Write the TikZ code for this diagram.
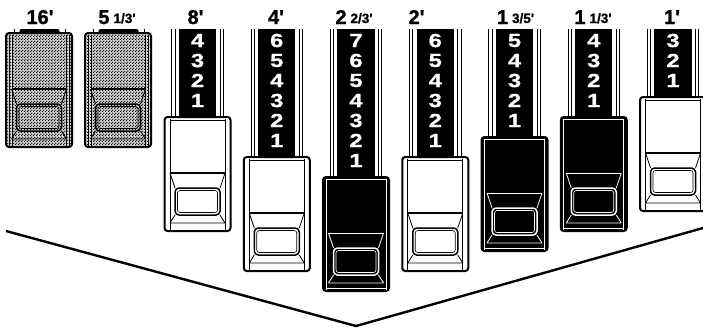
\documentclass[tikz,border=0pt]{standalone}
\usepackage{fontspec}
\setmainfont{Liberation Sans}
\newfontfamily\labfont{Liberation Sans Bold}[FakeBold=1.2]
\newfontfamily\digfont{Liberation Sans Bold}[FakeStretch=1.25,FakeBold=1]
\usetikzlibrary{patterns}
\pgfdeclarepatternformonly{knobdots}{\pgfpointorigin}{\pgfpoint{3pt}{3pt}}{\pgfpoint{3pt}{3pt}}{%
  \pgfpathcircle{\pgfpoint{0.75pt}{0.75pt}}{0.85pt}%
  \pgfpathcircle{\pgfpoint{2.25pt}{2.25pt}}{0.85pt}%
  \pgfusepath{fill}}
\tikzset{
  lab/.style={inner sep=0pt, anchor=base, font=\labfont\fontsize{20}{21}\selectfont},
  dig/.style={inner sep=0pt, text=white, font=\digfont\fontsize{19}{19}\selectfont},
  vline/.style={line width=2.4pt, line join=miter},
}
\newcommand\smallfr[1]{{\fontsize{13.5}{14}\selectfont\raisebox{1pt}{#1}}}
\newcommand\ap{\textquotesingle}
% shaft: #1 centre x, #2 bottom y
\newcommand\dbshaft[2]{%
  \fill[white] (#1-25.8,29) rectangle (#1+25.8,#2);
  \draw[line width=0.8pt] (#1-25.8,29) -- (#1-25.8,#2) (#1-22.5,29) -- (#1-22.5,#2)
        (#1+22.5,29) -- (#1+22.5,#2) (#1+25.8,29) -- (#1+25.8,#2);
  \fill (#1-18.7,29) rectangle (#1+18.7,#2);
}
% common line art of a knob, colour #1, divider width #2, side inset #3
\newcommand\knobart[3]{%
  \draw[#1, line width=0.7pt] (#3,1.5) -- (#3,112.5) (66-#3,1.5) -- (66-#3,112.5);
  \draw[#1, line width=#2] (5.5,56) -- (60.5,56);
  \draw[#1, line width=0.8pt] (5.5,56) -- (10.5,71) (60.5,56) -- (55.5,71)
        (10.5,98) -- (5.5,106) (55.5,98) -- (60.5,106) (5.5,106) -- (60.5,106);
  \draw[#1, line width=1.5pt, rounded corners=4pt] (10.5,71) rectangle (55.5,98);
  \draw[#1, line width=0.6pt, rounded corners=2.5pt] (13,73.5) rectangle (53,95.5);
}
\newcommand\whiteknob[2]{%
  \begin{scope}[shift={(#1,#2)}]
    \draw[line width=2pt, fill=white, rounded corners=3pt] (0,0) rectangle (66,114);
    \draw[line width=0.7pt] (5.5,3.2) -- (60.5,3.2);
    \knobart{black}{2.2pt}{5.5}
  \end{scope}}
\newcommand\blackknob[2]{%
  \begin{scope}[shift={(#1,#2)}]
    \draw[line width=2pt, fill=black, rounded corners=3pt] (0,0) rectangle (66,114);
    \draw[white, line width=0.7pt] (3,2.6) -- (63,2.6) (3,111.4) -- (63,111.4);
    \knobart{white}{0.8pt}{3}
  \end{scope}}
\newcommand\dotknob[2]{%
  \begin{scope}[shift={(#1,#2)}]
    \fill[gray!40, rounded corners=3pt] (0,0) rectangle (66,114);
    \fill[pattern=knobdots, rounded corners=3pt] (0,0) rectangle (66,114);
    \fill[gray!25] (1,2) rectangle (6,112) (60,2) rectangle (65,112);
    \fill[pattern=knobdots] (1,2) rectangle (6,112) (60,2) rectangle (65,112);
    \draw[line width=2pt, rounded corners=3pt] (0,0) rectangle (66,114);
    \draw[line width=0.7pt] (3,1.5) -- (3,112.5) (63,1.5) -- (63,112.5);
    \knobart{black}{2.2pt}{6}
  \end{scope}}
\begin{document}
\begin{tikzpicture}[x=1pt,y=-1pt]
\useasboundingbox (0,0) rectangle (703,330);
\fill[white] (0,0) rectangle (703,330);
% labels
\node[lab] (l1) at (40,24) {16\ap};
\node[lab] (l2) at (117,24) {5\hspace{4pt}\smallfr{1/3\ap}};
\node[lab] (l3) at (195.5,24) {8\ap};
\node[lab] (l4) at (276,24) {4\ap};
\node[lab] (l5) at (354,24) {2\hspace{4pt}\smallfr{2/3\ap}};
\node[lab] (l6) at (416.5,24) {2\ap};
\node[lab] (l7) at (515.5,24) {1\hspace{4pt}\smallfr{3/5\ap}};
\node[lab] (l8) at (593,24) {1\hspace{4pt}\smallfr{1/3\ap}};
\node[lab] (l9) at (672,24) {1\ap};
% pushed-in drawbars
\begin{scope}
  \fill[rounded corners=2pt] (19.5,29) rectangle (59.5,36);
  \draw[line width=0.8pt] (14,29) -- (14,34) (65,29) -- (65,34);
  \dotknob{6}{33}
  \fill[rounded corners=2pt] (98.5,29) rectangle (138.5,36);
  \draw[line width=0.8pt] (93,29) -- (93,34) (144,29) -- (144,34);
  \dotknob{85}{33}
\end{scope}
% pulled drawbars: shafts and numbers
\foreach \i/\n in {2/4,3/6,4/7,5/6,6/5,7/4,8/3}{
  \pgfmathsetmacro\lft{6+79.25*\i}
  \pgfmathsetmacro\cx{\lft+33}
  \pgfmathsetmacro\tp{37+20*\n}
  \dbshaft{\cx}{\tp+3}
  \foreach \d in {1,...,\n}{
    \node[dig] (d\i-\d) at (\cx,{40.5+20*(\n-\d)}) {\d};
  }
}
\whiteknob{164.5}{117}
\whiteknob{243.75}{157}
\blackknob{323}{177}
\whiteknob{402.25}{157}
\blackknob{481.5}{137}
\blackknob{560.75}{117}
\whiteknob{640}{97}
% V line
\coordinate (vl) at (6,231);
\coordinate (va) at (356,326);
\coordinate (vr) at (703,228);
\draw[vline] (vl) -- (va) -- (vr);
\end{tikzpicture}
\end{document}
